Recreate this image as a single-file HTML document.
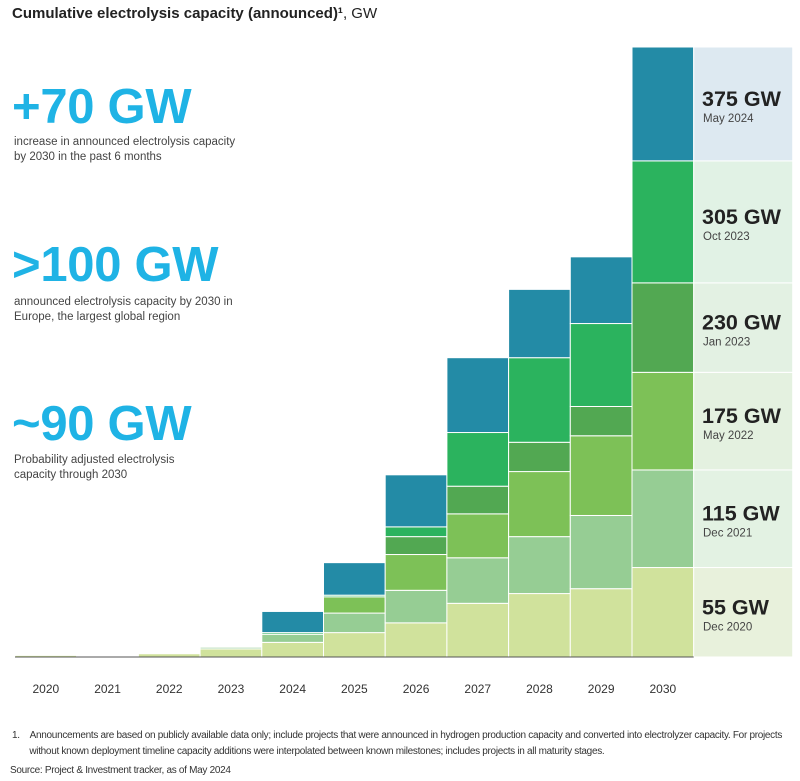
<!DOCTYPE html>
<html><head><meta charset="utf-8">
<style>
body{margin:0;width:800px;height:781px;background:#fff;font-family:"Liberation Sans",sans-serif;position:relative;overflow:hidden}
.abs{position:absolute}
.big{color:#1fb3e5;font-weight:bold;font-size:49px;left:12px;letter-spacing:-0.3px}
.sub{color:#444;font-size:11.5px;left:14px;line-height:15px}
.fn{font-size:10px;color:#333;letter-spacing:-0.3px;white-space:nowrap}
</style></head><body>
<div class="abs" style="left:12px;top:5px;font-size:15px;color:#222"><b>Cumulative electrolysis capacity (announced)¹</b>, GW</div>
<div class="abs big" style="top:79px">+70 GW</div>
<div class="abs sub" style="top:135px">increase in announced electrolysis capacity<br>by 2030 in the past 6 months</div>
<div class="abs big" style="top:237px">&gt;100 GW</div>
<div class="abs sub" style="top:295px">announced electrolysis capacity by 2030 in<br>Europe, the largest global region</div>
<div class="abs big" style="top:396px">~90 GW</div>
<div class="abs sub" style="top:453px">Probability adjusted electrolysis<br>capacity through 2030</div>
<svg class="abs" style="left:0;top:0" width="800" height="781" id="chart"></svg>
<div class="abs fn" style="left:12px;top:728px;line-height:16px">1.&nbsp;&nbsp;&nbsp;&nbsp;Announcements are based on publicly available data only; include projects that were announced in hydrogen production capacity and converted into electrolyzer capacity. For projects<br>&nbsp;&nbsp;&nbsp;&nbsp;&nbsp;&nbsp;&nbsp;without known deployment timeline capacity additions were interpolated between known milestones; includes projects in all maturity stages.</div>
<div class="abs fn" style="left:10px;top:765px">Source: Project &amp; Investment tracker, as of May 2024</div>
<script>
const years=["2020","2021","2022","2023","2024","2025","2026","2027","2028","2029","2030"];
const vintages=["Dec 2020","Dec 2021","May 2022","Jan 2023","Oct 2023","May 2024"];
const labels=["55 GW","115 GW","175 GW","230 GW","305 GW","375 GW"];
const dec2020=[1,0.5,2,5,9,15,21,33,39,42,55];
const dec2021=[1,0.5,2,6,14,27,41,61,74,87,115];
const may2022=[1,0.5,2,6,14,37,63,88,114,136,175];
const jan2023=[1,0.5,2,6,14,37,74,105,132,154,230];
const oct2023=[1,0.5,2,6,15,38,80,138,184,205,305];
const may2024=[1,1,2,6,28,58,112,184,226,246,375];
const series=[dec2020,dec2021,may2022,jan2023,oct2023,may2024];
const colors=["#d0e29c","#96cd94","#7dc157","#52a852","#2bb35e","#238ba6"];
const panelBg=["#e8f1dc","#e3f2e3","#e4f1e0","#e3f1e3","#e1f2e5","#dde9f1"];
const svg=document.getElementById('chart');const NS="http://www.w3.org/2000/svg";
const base=657,scale=610/375,x0=15,bw=61.7;
const y=v=>base-v*scale;const x=i=>x0+i*bw;
function mk(t,a){const e=document.createElementNS(NS,t);for(const k in a)e.setAttribute(k,a[k]);svg.appendChild(e);return e;}
years.forEach((yr,i)=>{
  let prev=0;
  series.forEach((s,j)=>{
    const v=s[i];if(v>prev){
      const r=mk('rect',{x:x(i),y:y(v),width:bw,height:y(prev)-y(v),fill:colors[j],stroke:'#fff','stroke-width':1});
      
      
      prev=v;}
  });
  const t=mk('text',{x:x(i)+bw/2,y:693,'text-anchor':'middle','font-size':12,fill:'#333','font-family':'Liberation Sans'});
  t.textContent=yr;
  
  
});
const last=years.length-1;let pv=0;
series.forEach((s,j)=>{
  const v=s[last];
  const r=mk('rect',{x:x(last)+bw,y:y(v),width:99,height:y(pv)-y(v),fill:panelBg[j],stroke:'#fff','stroke-width':1});
  
  
  const mid=(y(v)+y(pv))/2;
  const t=mk('text',{x:702,y:mid+2,'font-size':21.5,'font-weight':'bold',fill:'#222','font-family':'Liberation Sans'});
  t.textContent=labels[j];
  
  
  const d=mk('text',{x:703,y:mid+18,'font-size':11.5,fill:'#444','font-family':'Liberation Sans'});
  d.textContent=vintages[j];
  
  
  pv=v;
});
const ax=mk('line',{x1:15,x2:x(last)+bw,y1:base,y2:base,stroke:'#555','stroke-width':1});


</script>
</body></html>
